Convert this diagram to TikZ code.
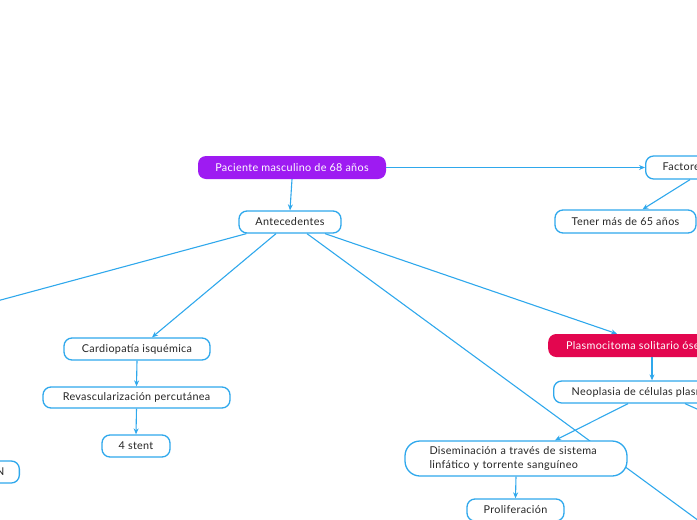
\documentclass[tikz,border=0pt]{standalone}
\usepackage{fontspec}
\setmainfont{Lato}[LetterSpace=3]
\usetikzlibrary{calc,arrows.meta,backgrounds}
\definecolor{cblue}{HTML}{2FA8EC}
\definecolor{cpurple}{HTML}{9E1BF2}
\definecolor{ccrimson}{HTML}{E3064F}
\tikzset{
  box/.style={draw=cblue,line width=1.3pt,fill=white,rounded corners=8pt,inner sep=0pt,
    font=\fontsize{10.8}{13.5}\selectfont,text=black!85},
  filledbox/.style={rounded corners=8pt,inner sep=0pt,font=\fontsize{10.8}{13.5}\selectfont,text=white},
  conn/.style={draw=cblue,line width=1.1pt},
  arr/.style={conn,-{Stealth[length=6pt,width=5pt]}}
}
\begin{document}
\begin{tikzpicture}[x=1pt,y=-1pt]
\useasboundingbox (0,0) rectangle (697,520);
\clip (0,0) rectangle (697,520);
% nodes
\node[filledbox,fill=cpurple,minimum width=188pt,minimum height=23pt] (pac) at (292,167.5) {Paciente masculino de 68 años};
\node[box,minimum width=102pt,minimum height=22pt] (ant) at (290,222) {Antecedentes};
\node[box,anchor=west,inner xsep=17pt,minimum height=23pt] (fac) at (645,167.5) {Factores de riesgo};
\node[box,minimum width=141pt,minimum height=23pt] (ten) at (625.5,221.5) {Tener más de 65 años};
\node[box,minimum width=146pt,minimum height=22pt] (car) at (137,349) {Cardiopatía isquémica};
\node[box,minimum width=187pt,minimum height=21pt] (rev) at (136.5,397.5) {Revascularización percutánea};
\node[box,minimum width=68pt,minimum height=22pt] (ste) at (136,446) {4 stent};
\node[box,anchor=east,inner xsep=15pt,minimum height=22pt] (nbx) at (20,472) {N};
\node[filledbox,fill=ccrimson,anchor=west,inner xsep=18pt,minimum height=23pt] (pla) at (548,345.5) {Plasmocitoma solitario óseo};
\node[box,anchor=west,inner xsep=18pt,minimum height=22pt] (neo) at (553,392) {Neoplasia de células plasmáticas};
\node[box,rounded corners=15pt,minimum width=222pt,minimum height=35pt,align=left,text width=173pt] (dis) at (516,458.5) {Diseminación a través de sistema\\linfático y torrente sanguíneo};
\node[box,minimum width=97pt,minimum height=22pt] (pro) at (515.5,510) {Proliferación};
% free ends
\coordinate (offl) at (-40,311);
\coordinate (offbr) at (740,551);
\coordinate (offr) at (760,437);
% connectors
\begin{pgfonlayer}{background}
\draw[conn] ($(ant.south)+(17,0)$) -- (offbr);
\end{pgfonlayer}
\draw[arr] (pac.east) -- (fac.west);
\draw[arr] (pac.south) -- (ant.north);
\draw[arr] ($(fac.south west)+(45,0)$) -- ($(ten.north)+(17,0)$);
\draw[conn] ($(ant.south west)+(8,0)$) -- (offl);
\draw[arr] ($(ant.south)+(-14,0)$) -- ($(car.north)+(15,0)$);
\draw[arr] (car.south) -- (rev.north);
\draw[arr] (rev.south) -- (ste.north);
\draw[arr] ($(ant.south)+(35,0)$) -- ($(pla.north west)+(69,0)$);
\draw[arr] ($(pla.south west)+(104,0)$) -- ($(neo.north west)+(99,0)$);
\draw[arr] ($(neo.south west)+(75,0)$) -- ($(dis.north)+(39,0)$);
\draw[conn] ($(neo.south west)+(132,0)$) -- (offr);
\draw[arr] (dis.south) -- (pro.north);
\end{tikzpicture}
\end{document}
